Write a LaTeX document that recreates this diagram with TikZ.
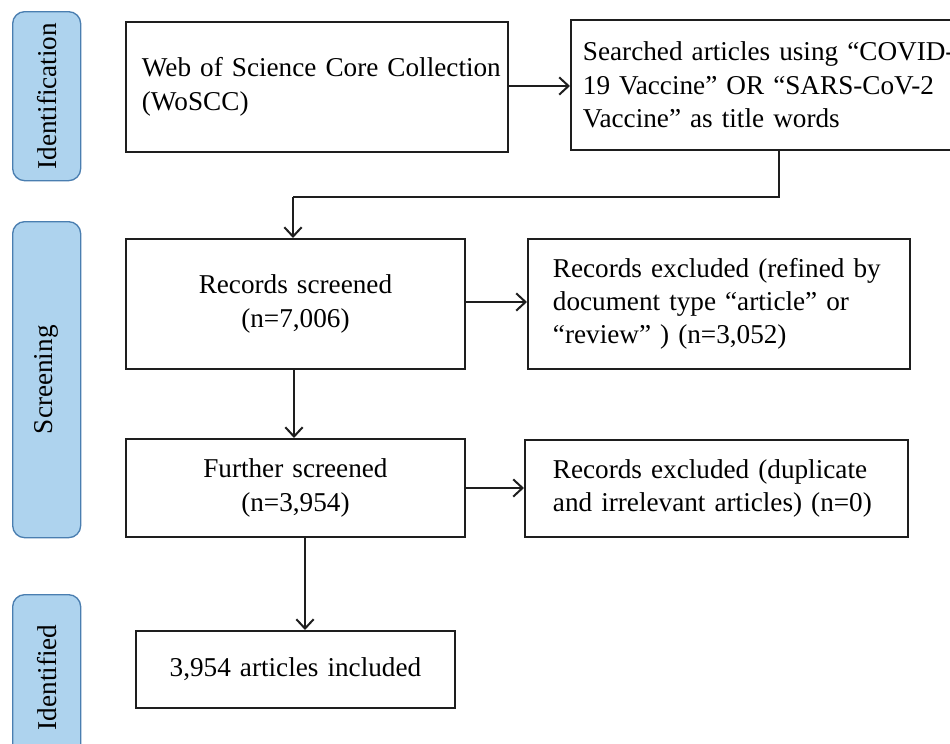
\documentclass[tikz,border=0pt]{standalone}
\usepackage{fontspec}
\setmainfont{Liberation Serif}
\usetikzlibrary{arrows.meta}
\definecolor{lblfill}{HTML}{AED3EE}
\definecolor{lbldraw}{HTML}{4A7EB0}
\definecolor{ln}{HTML}{1E1E1E}
\begin{document}
\begin{tikzpicture}[x=0.75pt,y=-0.75pt,
  txt/.style={font=\fontsize{20.4pt}{25pt}\selectfont},
  box/.style={draw=ln,line width=1.4pt,anchor=north west,txt,inner ysep=0pt},
  lbl/.style={draw=lbldraw,fill=lblfill,line width=1pt,rounded corners=9pt,
    anchor=north west,inner sep=0pt,minimum width={68*0.75pt}},
  lbltext/.style={txt,rotate=90},
  arr/.style={draw=ln,line width=1.4pt,-{Straight Barb[length=7pt,width=13pt,line width=1.5pt]}},
  con/.style={draw=ln,line width=1.4pt}]
\useasboundingbox (0,0) rectangle (950,743);
\clip (0,0) rectangle (950,743);
\fill[white] (0,0) rectangle (950,743);
% stage labels
\node[lbl,minimum height={169*0.75pt}] (L1) at (12,11) {};
\node[lbltext] (L1t) at (L1.center) {Identification};
\node[lbl,minimum height={316*0.75pt}] (L2) at (12,221) {};
\node[lbltext] (L2t) at (L2.center) {Screening};
\node[lbl,minimum height={176*0.75pt}] (L3) at (12,594) {};
\node[lbltext] (L3t) at ([yshift=4pt]L3.center) {Identified};
% boxes
\node[box,minimum width={382*0.75pt},minimum height={130*0.75pt},
  text width={350*0.75pt},inner xsep={16*0.75pt},align=left] (ws) at (125,21)
  {\mbox{Web of Science Core Collection}\\\mbox{(WoSCC)}};
\node[box,minimum width={395*0.75pt},minimum height={130*0.75pt},
  text width={371*0.75pt},inner xsep={12*0.75pt},align=left] (sa) at (570,19)
  {\mbox{Searched articles using “COVID-}\\\mbox{19 Vaccine” OR “SARS-CoV-2}\\\mbox{Vaccine” as title words}};
\node[box,minimum width={339*0.75pt},minimum height={130*0.75pt},
  text width={319*0.75pt},inner xsep={10*0.75pt},align=center] (rs) at (125,238)
  {Records screened\\(n=7,006)};
\node[box,minimum width={382*0.75pt},minimum height={130*0.75pt},
  text width={332*0.75pt},inner xsep={25*0.75pt},align=left] (re1) at (527,238)
  {\mbox{Records excluded (refined by}\\\mbox{document type “article” or}\\\mbox{“review” ) (n=3,052)}};
\node[box,minimum width={339*0.75pt},minimum height={98*0.75pt},
  text width={319*0.75pt},inner xsep={10*0.75pt},align=center] (fs) at (125,438)
  {Further screened\\(n=3,954)};
\node[box,minimum width={383*0.75pt},minimum height={97*0.75pt},
  text width={327*0.75pt},inner xsep={28*0.75pt},align=left] (re2) at (524,439)
  {\mbox{Records excluded (duplicate}\\\mbox{and irrelevant articles) (n=0)}};
\node[box,minimum width={319*0.75pt},minimum height={77*0.75pt},
  text width={299*0.75pt},inner xsep={10*0.75pt},align=center] (inc) at (135,630)
  {3,954 articles included};
% connectors
\path[arr] (ws.east |- 0,86) -- (sa.west |- 0,86);
\coordinate (c1) at (779,197);
\coordinate (c2) at (293,197);
\path[con] (sa.south -| c1) -- (c1) -- (c2);
\path[arr] (c2) -- (c2 |- rs.north);
\path[arr] (294,0 |- rs.south) -- (294,0 |- fs.north);
\path[arr] (rs.east |- 0,302) -- (re1.west |- 0,302);
\path[arr] (fs.east |- 0,488) -- (re2.west |- 0,488);
\path[arr] (305,0 |- fs.south) -- (305,0 |- inc.north);
\end{tikzpicture}
\end{document}
